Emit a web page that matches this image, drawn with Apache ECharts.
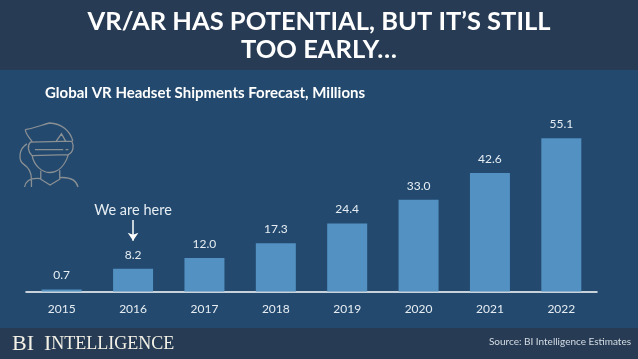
<!DOCTYPE html>
<html>
<head>
<meta charset="utf-8">
<style>html,body{margin:0;padding:0;background:#234a6e}#c{width:638px;height:359px}</style>
<script src="https://cdn.jsdelivr.net/npm/echarts@6/dist/echarts.min.js"></script>
</head>
<body>
<div id="c"></div>
<script>
const categories = ['2015','2016','2017','2018','2019','2020','2021','2022'];
const shipments = [0.7,8.2,12.0,17.3,24.4,33.0,42.6,55.1];
const headline = "VR/AR HAS POTENTIAL, BUT IT\u2019S STILL\nTOO EARLY\u2026";
const chartTitle = 'Global VR Headset Shipments Forecast, Millions';
const sourceNote = 'Source: BI Intelligence Estimates';
const annotation = 'We are here';
const annotatedYear = '2016';

const iconPath = [
  'M80 58 C110 52 125 45 150 38 C185 40 210 60 218 92',
  'M80 58 C82 72 92 82 100 93',
  'M95 95 L215 92 C222 105 220 125 205 132 L100 135 C88 125 85 105 95 95 Z',
  'M108 117 L190 117 M197 117 L205 117',
  'M170 92 L185 70 L197 92',
  'M100 135 C105 165 130 185 150 185 C175 185 195 165 205 132',
  'M85 100 C60 115 60 150 75 160 C90 170 98 185 98 205',
  'M125 180 L125 205 L152 222 L180 205 L180 178',
  'M78 228 C82 205 100 200 125 203 M180 200 C210 198 228 205 233 228 M98 205 L98 228'
].join(' ');

const chart = echarts.init(document.getElementById('c'), null, {renderer:'canvas'});
chart.setOption({
  animation:false,
  backgroundColor:'#234a6e',
  title:[
    {text:headline,left:319,top:8,textAlign:'center',padding:0,
     textStyle:{color:'#fff',fontFamily:'Lato',fontWeight:'bold',fontSize:25.5,lineHeight:28}},
    {text:chartTitle,left:45,top:86,padding:0,
     textStyle:{color:'#fff',fontFamily:'Lato',fontWeight:'bold',fontSize:15}},
    {text:sourceNote,left:631,top:337,textAlign:'right',padding:0,
     textStyle:{color:'#d5dde5',fontFamily:'Lato',fontWeight:'normal',fontSize:10}},
    {text:'{a|BI}  {a|I}{b|NTELLIGENCE}',left:12,top:333,padding:0,
     textStyle:{rich:{
       a:{color:'#f4f1e6',fontFamily:'Liberation Serif',fontWeight:'normal',fontSize:22},
       b:{color:'#f4f1e6',fontFamily:'Liberation Serif',fontWeight:'normal',fontSize:18}}}}
  ],
  grid:{left:26,right:41,top:124.5,bottom:67.5,containLabel:false},
  xAxis:{type:'category',data:categories,
    axisLine:{lineStyle:{color:'#fff',width:1.5}},
    axisTick:{show:false},
    axisLabel:{color:'#e6edf3',fontFamily:'Lato',fontSize:12,margin:12}},
  yAxis:{type:'value',min:0,max:60,show:false,splitLine:{show:false}},
  graphic:[
    {type:'rect',z:-1,shape:{x:0,y:0,width:638,height:70},style:{fill:'#273c54'}},
    {type:'rect',z:-1,shape:{x:0,y:328,width:638,height:31},style:{fill:'#273c54'}}
  ],
  series:[{
    type:'bar',
    data:shipments,
    barWidth:40,
    itemStyle:{color:'#5291c2'},
    label:{show:true,position:'top',distance:8,color:'#e6edf3',fontFamily:'Lato',fontSize:12,
      formatter:p=>p.value.toFixed(1)},
    markPoint:{
      symbol:'circle',symbolSize:0,
      data:[{coord:[annotatedYear,29],value:annotation,
        label:{show:true,position:'inside',formatter:annotation,color:'#e6edf3',fontFamily:'Lato',fontSize:14.5}}]
    },
    markLine:{
      silent:true,symbol:['none','arrow'],symbolSize:8,
      lineStyle:{color:'#fff',width:1.5,type:'solid'},
      label:{show:false},
      data:[[{coord:[annotatedYear,25.7]},{coord:[annotatedYear,18.2]}]]
    }
  },{
    type:'custom',
    coordinateSystem:'none',
    silent:true,
    data:[0],
    renderItem:()=>({
      type:'path',
      shape:{pathData:iconPath,x:20,y:123,width:58,height:64,layout:'cover'},
      style:{fill:'none',stroke:'#8a8f94',lineWidth:1.3}
    })
  }]
});
</script>
</body>
</html>
